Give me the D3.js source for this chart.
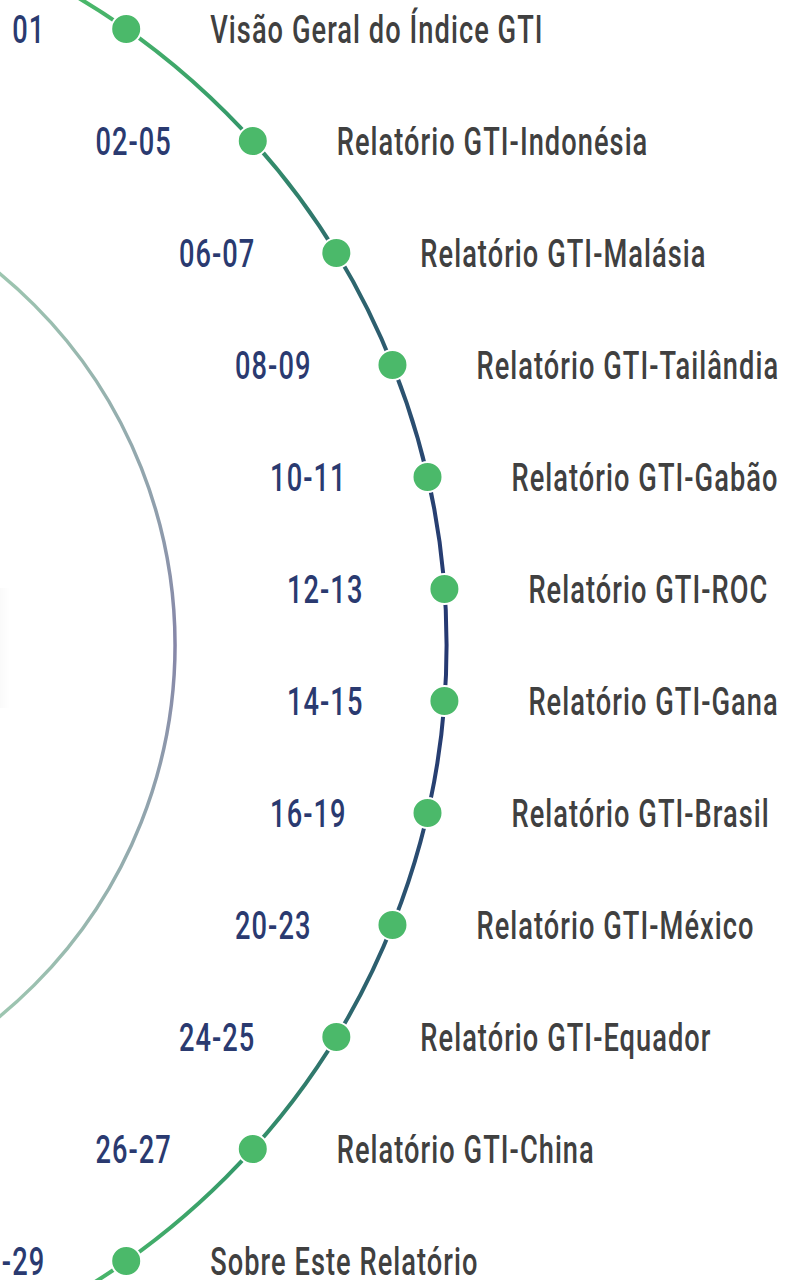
<!DOCTYPE html>
<html>
<head>
<meta charset="utf-8">
<script src="https://cdn.jsdelivr.net/npm/d3@7"></script>
<style>
  html, body { margin: 0; padding: 0; background: #ffffff; }
  svg { display: block; }
</style>
</head>
<body>
<svg id="chart" width="793" height="1280"></svg>
<script>
// ---- data ----
const pages = ["01","02-05","06-07","08-09","10-11","12-13","14-15","16-19","20-23","24-25","26-27","28-29"];
const titles = [
  "Visão Geral do Índice GTI",
  "Relatório GTI-Indonésia",
  "Relatório GTI-Malásia",
  "Relatório GTI-Tailândia",
  "Relatório GTI-Gabão",
  "Relatório GTI-ROC",
  "Relatório GTI-Gana",
  "Relatório GTI-Brasil",
  "Relatório GTI-México",
  "Relatório GTI-Equador",
  "Relatório GTI-China",
  "Sobre Este Relatório"
];

// ---- layout ----
const W = 793, H = 1280;
const cx = -306, cy = 645;
const R = 752.5, Rin = 481;
const svg = d3.select("#chart");

const y = d3.scalePoint().domain(pages).range([29, 1261]);
const xOnArc = yy => cx + Math.sqrt(R * R - (yy - cy) * (yy - cy));

const defs = svg.append("defs");
const gOuter = defs.append("linearGradient").attr("id", "gOuter")
  .attr("gradientUnits", "userSpaceOnUse").attr("x1", 0).attr("y1", -10).attr("x2", 0).attr("y2", 1300);
[[0, "#4cba6a"], [0.1, "#359a6a"], [0.2, "#2e6c6d"], [0.3, "#2c5470"], [0.4, "#273f71"],
 [0.5, "#253872"], [0.6, "#273f71"], [0.7, "#2b5470"], [0.8, "#2e6c6d"], [0.9, "#359a6a"], [1, "#4cba6a"]]
  .forEach(([o, c]) => gOuter.append("stop").attr("offset", o).attr("stop-color", c));

const gInner = defs.append("linearGradient").attr("id", "gInner")
  .attr("gradientUnits", "userSpaceOnUse").attr("x1", 0).attr("y1", 270).attr("x2", 0).attr("y2", 1020);
[[0, "#9dc6b0"], [0.25, "#93a8ae"], [0.5, "#8686a8"], [0.75, "#93a8ae"], [1, "#9dc6b0"]]
  .forEach(([o, c]) => gInner.append("stop").attr("offset", o).attr("stop-color", c));

const gGlow = defs.append("linearGradient").attr("id", "gGlow")
  .attr("x1", 0).attr("y1", 0).attr("x2", 1).attr("y2", 0);
gGlow.append("stop").attr("offset", 0).attr("stop-color", "#fafafa");
gGlow.append("stop").attr("offset", 1).attr("stop-color", "#ffffff");

// faint glow on left edge
svg.append("rect").attr("x", 0).attr("y", 588).attr("width", 10).attr("height", 120)
  .attr("fill", "url(#gGlow)");

// arcs
const arcPath = (r) => {
  const p = d3.path();
  p.arc(cx, cy, r, -Math.PI / 2 + 0.0001, Math.PI / 2 - 0.0001);
  return p.toString();
};
svg.append("path").attr("d", arcPath(Rin)).attr("fill", "none")
  .attr("stroke", "url(#gInner)").attr("stroke-width", 3.5);
svg.append("path").attr("d", arcPath(R)).attr("fill", "none")
  .attr("stroke", "url(#gOuter)").attr("stroke-width", 4);

// dots
svg.append("g").selectAll("circle").data(pages).join("circle")
  .attr("cx", d => xOnArc(y(d)))
  .attr("cy", d => y(d))
  .attr("r", 15)
  .attr("fill", "#4bb96a")
  .attr("stroke", "#ffffff")
  .attr("stroke-width", 2);

// text
const FONT = "Roboto, 'Liberation Sans', sans-serif";
const FS = 39;
const WEIGHT = 500;
const LS = 1.5;
const probe = svg.append("text").attr("font-family", FONT).attr("font-size", FS)
  .attr("font-weight", WEIGHT).attr("letter-spacing", LS)
  .text("Relatório GTI-ROC");
const natural = probe.node().getComputedTextLength();
probe.remove();
const sx = 240 / natural;
const capShift = 14;
const gapNum = 81;
const gapLbl = 84;

svg.append("g").selectAll("text").data(pages).join("text")
  .attr("transform", d => `translate(${xOnArc(y(d)) - gapNum},${y(d) + capShift}) scale(${sx},1)`)
  .attr("text-anchor", "end")
  .attr("font-family", FONT).attr("font-size", FS)
  .attr("font-weight", WEIGHT).attr("letter-spacing", LS)
  .attr("fill", "#2a3a70")
  .text(d => d);

svg.append("g").selectAll("text").data(titles).join("text")
  .attr("transform", (d, i) => `translate(${xOnArc(y(pages[i])) + gapLbl},${y(pages[i]) + capShift}) scale(${sx},1)`)
  .attr("text-anchor", "start")
  .attr("font-family", FONT).attr("font-size", FS)
  .attr("font-weight", WEIGHT).attr("letter-spacing", LS)
  .attr("fill", "#404040")
  .text(d => d);
</script>
</body>
</html>
